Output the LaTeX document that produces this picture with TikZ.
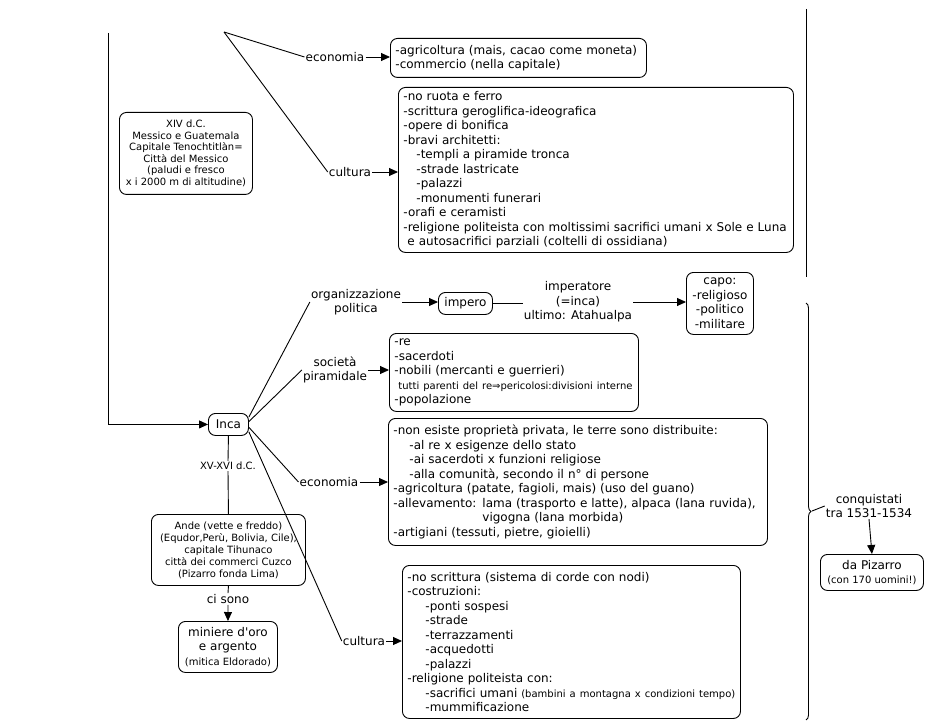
\documentclass[tikz,border=0pt]{standalone}
\usepackage{fontspec}
\setmainfont{DejaVu Sans}
\usetikzlibrary{arrows.meta,decorations.pathreplacing}
\newcommand\mfont{\fontsize{12}{14.5}\selectfont}
\newcommand\sfont{\fontsize{10}{12}\selectfont}
\newcommand\ind[1]{\hspace*{#1pt}}
\begin{document}
\begin{tikzpicture}[x=1pt,y=-1pt,
  box/.style={draw, line width=0.9pt, rounded corners=7pt, inner xsep=5pt, inner ysep=2pt, font=\mfont, anchor=north west},
  lbl/.style={inner sep=1pt, align=center, font=\mfont},
  arr/.style={-{Triangle[length=9pt,width=8pt]}, line width=0.9pt},
  ln/.style={line width=0.9pt}]
\useasboundingbox (0,0) rectangle (925,727);

% ---- Aztec part ----
\coordinate (ap) at (224,32);
\coordinate (tl) at (108,33);
\coordinate (rt1) at (806,9);
\coordinate (rt2) at (806,277);

\node[box, text width=246pt, minimum height=39pt, align=left] (azEcon) at (390,38)
 {-agricoltura (mais, cacao come moneta)\\-commercio (nella capitale)};
\node[box, text width=385pt, minimum height=165pt, align=left] (azCult) at (398,87)
 {-no ruota e ferro\\
  -scrittura geroglifica-ideografica\\
  -opere di bonifica\\
  -bravi architetti:\\
  \ind{13}-templi a piramide tronca\\
  \ind{13}-strade lastricate\\
  \ind{13}-palazzi\\
  \ind{13}-monumenti funerari\\
  -orafi e ceramisti\\
  \mbox{-religione politeista con moltissimi sacrifici umani x Sole e Luna}\\
  \ind{4}e autosacrifici parziali (coltelli di ossidiana)};
\node[box, font=\fontsize{10}{11.5}\selectfont, minimum width=133pt, minimum height=82pt, align=center] (xiv) at (119,112)
 {XIV d.C.\\Messico e Guatemala\\Capitale Tenochtitlàn=\\Città del Messico\\(paludi e fresco\\x i 2000 m di altitudine)};

\node[lbl] (econA) at (335,57) {economia};
\node[lbl] (cultA) at (350,172) {cultura};

\draw[ln] (ap) -- (econA.west);
\draw[ln] (ap) -- (cultA.west);
\draw[arr] (econA.east) -- (econA.east -| azEcon.west);
\draw[arr] (cultA.east) -- (cultA.east -| azCult.west);
\draw[ln] (rt1) -- (rt2);

% ---- Inca part ----
\node[box, minimum width=40pt, minimum height=22pt, inner xsep=2pt, align=center] (inca) at (208,413) {Inca};
\draw[arr] (tl) |- (inca.west);

\node[lbl] (orgP) at (356,302) {organizzazione\\politica};
\node[lbl] (socP) at (335,370) {società\\piramidale};
\node[lbl] (econI) at (329,482) {economia};
\node[lbl] (cultI) at (364,641) {cultura};

\node[box, minimum width=54pt, minimum height=22pt, inner xsep=2pt, align=center] (impero) at (438,292) {impero};
\node[lbl] (imp) at (578,302) {imperatore\\(=inca)\\ultimo: Atahualpa};
\node[box, minimum width=67pt, minimum height=62pt, inner xsep=2pt, align=center] (capo) at (686,272)
 {capo:\\-religioso\\-politico\\-militare};

\node[box, text width=239pt, minimum height=78pt, align=left] (soc) at (389,333)
 {-re\\-sacerdoti\\-nobili (mercanti e guerrieri)\\\mbox{\sfont\ind{4}tutti parenti del re⇒pericolosi:divisioni interne}\\-popolazione};

\node[box, text width=369pt, minimum height=127pt, align=left] (incaEcon) at (388,418)
 {-non esiste proprietà privata, le terre sono distribuite:\\
  \ind{16}-al re x esigenze dello stato\\
  \ind{16}-ai sacerdoti x funzioni religiose\\
  \ind{16}-alla comunità, secondo il n° di persone\\
  -agricoltura (patate, fagioli, mais) (uso del guano)\\
  \mbox{-allevamento: lama (trasporto e latte), alpaca (lana ruvida),}\\
  \hphantom{-allevamento: }vigogna (lana morbida)\\
  -artigiani (tessuti, pietre, gioielli)};

\node[box, text width=328pt, minimum height=153pt, align=left] (incaCult) at (402,565)
 {-no scrittura (sistema di corde con nodi)\\
  -costruzioni:\\
  \ind{18}-ponti sospesi\\
  \ind{18}-strade\\
  \ind{18}-terrazzamenti\\
  \ind{18}-acquedotti\\
  \ind{18}-palazzi\\
  -religione politeista con:\\
  \ind{18}\mbox{-sacrifici umani {\sfont (bambini a montagna x condizioni tempo)}}\\
  \ind{18}-mummificazione};

\node[lbl, font=\sfont] (xv) at (228,466) {XV-XVI d.C.};
\node[box, font=\sfont, minimum width=154pt, minimum height=71pt, align=center] (ande) at (151,514)
 {Ande (vette e freddo)\\(Equdor,Perù, Bolivia, Cile),\\capitale Tihunaco\\città dei commerci Cuzco\\(Pizarro fonda Lima)};
\node[lbl] (ci) at (228,599) {ci sono};
\node[box, minimum width=99pt, minimum height=51pt, inner xsep=2pt, align=center] (miniere) at (178,621)
 {miniere d\textquotesingle oro\\e argento\\{\sfont (mitica Eldorado)}};

\draw[ln] (inca.20) -- (orgP.west);
\draw[ln] (inca.8) -- (socP.west);
\draw[ln] (inca.-8) -- (econI.west);
\draw[ln] (inca.-20) -- (cultI.west);
\draw[arr] (orgP.east) -- (orgP.east -| impero.west);
\draw[ln] (impero.east) -- (impero.east -| imp.west);
\draw[arr] (imp.east) -- (imp.east -| capo.west);
\draw[arr] (socP.east) -- (socP.east -| soc.west);
\draw[arr] (econI.east) -- (econI.east -| incaEcon.west);
\draw[arr] (cultI.east) -- (cultI.east -| incaCult.west);
\draw[ln] (inca.south) -- (xv.north);
\draw[ln] (xv.south) -- (ande.north);
\draw[ln] (ande.south) -- (ci.north);
\draw[arr] (ci.south) -- (miniere.north);

% ---- brace and conquest ----
\draw[ln, decorate, decoration={brace, amplitude=5pt}] (806,303) -- (806,720);
\coordinate (bt) at (812,511);
\node[lbl] (conq) at (869,506) {conquistati\\tra 1531-1534};
\node[box, minimum width=103pt, minimum height=36pt, inner xsep=2pt, align=center] (pizarro) at (820,554)
 {da Pizarro\\{\sfont (con 170 uomini!)}};
\draw[ln] (bt) -- (conq.west);
\draw[arr] (conq.south) -- (pizarro.north);
\end{tikzpicture}
\end{document}
